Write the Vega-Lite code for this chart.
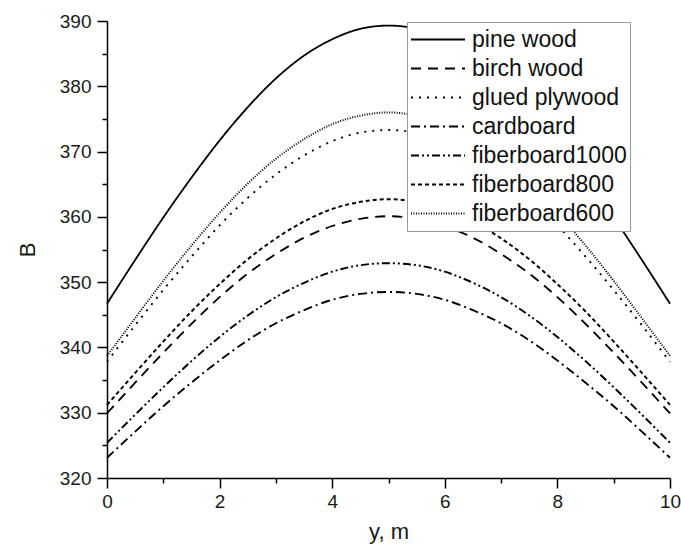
{
  "$schema": "https://vega.github.io/schema/vega-lite/v6.json",
  "width": 563,
  "height": 457,
  "autosize": {"type": "none"},
  "padding": {"left": 107, "top": 21, "right": 11, "bottom": 74},
  "background": "white",
  "config": {
    "view": {"stroke": null},
    "font": "Liberation Sans"
  },
  "data": {
    "values": [
      {"y_m": 0, "B": 346.7, "material": "pine wood"}, {"y_m": 0.5, "B": 353.4, "material": "pine wood"}, {"y_m": 1, "B": 359.9, "material": "pine wood"}, {"y_m": 1.5, "B": 366.0, "material": "pine wood"}, {"y_m": 2, "B": 371.7, "material": "pine wood"}, {"y_m": 2.5, "B": 376.8, "material": "pine wood"}, {"y_m": 3, "B": 381.2, "material": "pine wood"}, {"y_m": 3.5, "B": 384.7, "material": "pine wood"}, {"y_m": 4, "B": 387.2, "material": "pine wood"}, {"y_m": 4.5, "B": 388.8, "material": "pine wood"}, {"y_m": 5, "B": 389.3, "material": "pine wood"}, {"y_m": 5.5, "B": 388.8, "material": "pine wood"}, {"y_m": 6, "B": 387.2, "material": "pine wood"}, {"y_m": 6.5, "B": 384.7, "material": "pine wood"}, {"y_m": 7, "B": 381.2, "material": "pine wood"}, {"y_m": 7.5, "B": 376.8, "material": "pine wood"}, {"y_m": 8, "B": 371.7, "material": "pine wood"}, {"y_m": 8.5, "B": 366.0, "material": "pine wood"}, {"y_m": 9, "B": 359.9, "material": "pine wood"}, {"y_m": 9.5, "B": 353.4, "material": "pine wood"}, {"y_m": 10, "B": 346.7, "material": "pine wood"},

      {"y_m": 0, "B": 329.9, "material": "birch wood"}, {"y_m": 0.5, "B": 334.6, "material": "birch wood"}, {"y_m": 1, "B": 339.2, "material": "birch wood"}, {"y_m": 1.5, "B": 343.6, "material": "birch wood"}, {"y_m": 2, "B": 347.7, "material": "birch wood"}, {"y_m": 2.5, "B": 351.3, "material": "birch wood"}, {"y_m": 3, "B": 354.3, "material": "birch wood"}, {"y_m": 3.5, "B": 356.8, "material": "birch wood"}, {"y_m": 4, "B": 358.6, "material": "birch wood"}, {"y_m": 4.5, "B": 359.7, "material": "birch wood"}, {"y_m": 5, "B": 360.1, "material": "birch wood"}, {"y_m": 5.5, "B": 359.7, "material": "birch wood"}, {"y_m": 6, "B": 358.6, "material": "birch wood"}, {"y_m": 6.5, "B": 356.8, "material": "birch wood"}, {"y_m": 7, "B": 354.3, "material": "birch wood"}, {"y_m": 7.5, "B": 351.3, "material": "birch wood"}, {"y_m": 8, "B": 347.7, "material": "birch wood"}, {"y_m": 8.5, "B": 343.6, "material": "birch wood"}, {"y_m": 9, "B": 339.2, "material": "birch wood"}, {"y_m": 9.5, "B": 334.6, "material": "birch wood"}, {"y_m": 10, "B": 329.9, "material": "birch wood"},

      {"y_m": 0, "B": 337.8, "material": "glued plywood"}, {"y_m": 0.5, "B": 343.4, "material": "glued plywood"}, {"y_m": 1, "B": 348.8, "material": "glued plywood"}, {"y_m": 1.5, "B": 353.9, "material": "glued plywood"}, {"y_m": 2, "B": 358.7, "material": "glued plywood"}, {"y_m": 2.5, "B": 362.9, "material": "glued plywood"}, {"y_m": 3, "B": 366.5, "material": "glued plywood"}, {"y_m": 3.5, "B": 369.4, "material": "glued plywood"}, {"y_m": 4, "B": 371.6, "material": "glued plywood"}, {"y_m": 4.5, "B": 372.9, "material": "glued plywood"}, {"y_m": 5, "B": 373.3, "material": "glued plywood"}, {"y_m": 5.5, "B": 372.9, "material": "glued plywood"}, {"y_m": 6, "B": 371.6, "material": "glued plywood"}, {"y_m": 6.5, "B": 369.4, "material": "glued plywood"}, {"y_m": 7, "B": 366.5, "material": "glued plywood"}, {"y_m": 7.5, "B": 362.9, "material": "glued plywood"}, {"y_m": 8, "B": 358.7, "material": "glued plywood"}, {"y_m": 8.5, "B": 353.9, "material": "glued plywood"}, {"y_m": 9, "B": 348.8, "material": "glued plywood"}, {"y_m": 9.5, "B": 343.4, "material": "glued plywood"}, {"y_m": 10, "B": 337.8, "material": "glued plywood"},

      {"y_m": 0, "B": 323.1, "material": "cardboard"}, {"y_m": 0.5, "B": 327.1, "material": "cardboard"}, {"y_m": 1, "B": 331.0, "material": "cardboard"}, {"y_m": 1.5, "B": 334.6, "material": "cardboard"}, {"y_m": 2, "B": 338.0, "material": "cardboard"}, {"y_m": 2.5, "B": 341.1, "material": "cardboard"}, {"y_m": 3, "B": 343.7, "material": "cardboard"}, {"y_m": 3.5, "B": 345.7, "material": "cardboard"}, {"y_m": 4, "B": 347.3, "material": "cardboard"}, {"y_m": 4.5, "B": 348.2, "material": "cardboard"}, {"y_m": 5, "B": 348.5, "material": "cardboard"}, {"y_m": 5.5, "B": 348.2, "material": "cardboard"}, {"y_m": 6, "B": 347.3, "material": "cardboard"}, {"y_m": 6.5, "B": 345.7, "material": "cardboard"}, {"y_m": 7, "B": 343.7, "material": "cardboard"}, {"y_m": 7.5, "B": 341.1, "material": "cardboard"}, {"y_m": 8, "B": 338.0, "material": "cardboard"}, {"y_m": 8.5, "B": 334.6, "material": "cardboard"}, {"y_m": 9, "B": 331.0, "material": "cardboard"}, {"y_m": 9.5, "B": 327.1, "material": "cardboard"}, {"y_m": 10, "B": 323.1, "material": "cardboard"},

      {"y_m": 0, "B": 325.4, "material": "fiberboard1000"}, {"y_m": 0.5, "B": 329.7, "material": "fiberboard1000"}, {"y_m": 1, "B": 333.9, "material": "fiberboard1000"}, {"y_m": 1.5, "B": 337.9, "material": "fiberboard1000"}, {"y_m": 2, "B": 341.6, "material": "fiberboard1000"}, {"y_m": 2.5, "B": 344.9, "material": "fiberboard1000"}, {"y_m": 3, "B": 347.7, "material": "fiberboard1000"}, {"y_m": 3.5, "B": 349.9, "material": "fiberboard1000"}, {"y_m": 4, "B": 351.6, "material": "fiberboard1000"}, {"y_m": 4.5, "B": 352.6, "material": "fiberboard1000"}, {"y_m": 5, "B": 352.9, "material": "fiberboard1000"}, {"y_m": 5.5, "B": 352.6, "material": "fiberboard1000"}, {"y_m": 6, "B": 351.6, "material": "fiberboard1000"}, {"y_m": 6.5, "B": 349.9, "material": "fiberboard1000"}, {"y_m": 7, "B": 347.7, "material": "fiberboard1000"}, {"y_m": 7.5, "B": 344.9, "material": "fiberboard1000"}, {"y_m": 8, "B": 341.6, "material": "fiberboard1000"}, {"y_m": 8.5, "B": 337.9, "material": "fiberboard1000"}, {"y_m": 9, "B": 333.9, "material": "fiberboard1000"}, {"y_m": 9.5, "B": 329.7, "material": "fiberboard1000"}, {"y_m": 10, "B": 325.4, "material": "fiberboard1000"},

      {"y_m": 0, "B": 331.2, "material": "fiberboard800"}, {"y_m": 0.5, "B": 336.1, "material": "fiberboard800"}, {"y_m": 1, "B": 340.9, "material": "fiberboard800"}, {"y_m": 1.5, "B": 345.5, "material": "fiberboard800"}, {"y_m": 2, "B": 349.7, "material": "fiberboard800"}, {"y_m": 2.5, "B": 353.5, "material": "fiberboard800"}, {"y_m": 3, "B": 356.7, "material": "fiberboard800"}, {"y_m": 3.5, "B": 359.3, "material": "fiberboard800"}, {"y_m": 4, "B": 361.2, "material": "fiberboard800"}, {"y_m": 4.5, "B": 362.3, "material": "fiberboard800"}, {"y_m": 5, "B": 362.7, "material": "fiberboard800"}, {"y_m": 5.5, "B": 362.3, "material": "fiberboard800"}, {"y_m": 6, "B": 361.2, "material": "fiberboard800"}, {"y_m": 6.5, "B": 359.3, "material": "fiberboard800"}, {"y_m": 7, "B": 356.7, "material": "fiberboard800"}, {"y_m": 7.5, "B": 353.5, "material": "fiberboard800"}, {"y_m": 8, "B": 349.7, "material": "fiberboard800"}, {"y_m": 8.5, "B": 345.5, "material": "fiberboard800"}, {"y_m": 9, "B": 340.9, "material": "fiberboard800"}, {"y_m": 9.5, "B": 336.1, "material": "fiberboard800"}, {"y_m": 10, "B": 331.2, "material": "fiberboard800"},

      {"y_m": 0, "B": 338.7, "material": "fiberboard600"}, {"y_m": 0.5, "B": 344.5, "material": "fiberboard600"}, {"y_m": 1, "B": 350.2, "material": "fiberboard600"}, {"y_m": 1.5, "B": 355.6, "material": "fiberboard600"}, {"y_m": 2, "B": 360.6, "material": "fiberboard600"}, {"y_m": 2.5, "B": 365.1, "material": "fiberboard600"}, {"y_m": 3, "B": 368.9, "material": "fiberboard600"}, {"y_m": 3.5, "B": 371.9, "material": "fiberboard600"}, {"y_m": 4, "B": 374.2, "material": "fiberboard600"}, {"y_m": 4.5, "B": 375.5, "material": "fiberboard600"}, {"y_m": 5, "B": 376.0, "material": "fiberboard600"}, {"y_m": 5.5, "B": 375.5, "material": "fiberboard600"}, {"y_m": 6, "B": 374.2, "material": "fiberboard600"}, {"y_m": 6.5, "B": 371.9, "material": "fiberboard600"}, {"y_m": 7, "B": 368.9, "material": "fiberboard600"}, {"y_m": 7.5, "B": 365.1, "material": "fiberboard600"}, {"y_m": 8, "B": 360.6, "material": "fiberboard600"}, {"y_m": 8.5, "B": 355.6, "material": "fiberboard600"}, {"y_m": 9, "B": 350.2, "material": "fiberboard600"}, {"y_m": 9.5, "B": 344.5, "material": "fiberboard600"}, {"y_m": 10, "B": 338.7, "material": "fiberboard600"}
    ]
  },
  "layer": [
    {
      "mark": {"type": "line", "color": "black", "interpolate": "monotone", "strokeCap": "butt"},
      "encoding": {
        "x": {
          "field": "y_m", "type": "quantitative",
          "scale": {"domain": [0, 10], "nice": false, "zero": false},
          "axis": {
            "orient": "bottom", "values": [0, 2, 4, 6, 8, 10], "title": "y, m", "grid": false,
            "labelFlush": false, "domainColor": "black", "domainWidth": 1.5,
            "tickColor": "black", "tickWidth": 1.5, "tickSize": 10,
            "labelFont": "Liberation Sans", "labelFontSize": 19, "labelColor": "#1a1a1a", "labelPadding": 4,
            "titleFont": "Liberation Sans", "titleFontSize": 22, "titleFontWeight": "normal", "titleColor": "#1a1a1a", "titlePadding": 10
          }
        },
        "y": {
          "field": "B", "type": "quantitative",
          "scale": {"domain": [320, 390], "nice": false, "zero": false},
          "axis": {
            "orient": "left", "values": [320, 330, 340, 350, 360, 370, 380, 390], "title": "B", "grid": false,
            "labelFlush": false, "domainColor": "black", "domainWidth": 1.5,
            "tickColor": "black", "tickWidth": 1.5, "tickSize": 10,
            "labelFont": "Liberation Sans", "labelFontSize": 19, "labelColor": "#1a1a1a", "labelPadding": 6,
            "titleFont": "Liberation Sans", "titleFontSize": 22, "titleFontWeight": "normal", "titleColor": "#1a1a1a", "titlePadding": 20
          }
        },
        "strokeDash": {
          "field": "material", "type": "nominal",
          "scale": {
            "domain": ["pine wood", "birch wood", "glued plywood", "cardboard", "fiberboard1000", "fiberboard800", "fiberboard600"],
            "range": [[1, 0], [10, 7], [2, 6], [9, 4, 2, 4], [8, 3, 2, 3, 2, 3], [4, 3], [1, 1.5]]
          },
          "legend": {
            "orient": "none", "legendX": 300, "legendY": 1, "title": null,
            "padding": 3, "strokeColor": "#999999", "fillColor": "white",
            "symbolType": "stroke", "symbolSize": 2916, "symbolStrokeWidth": 1.8, "symbolStrokeColor": "black",
            "labelFont": "Liberation Sans", "labelFontSize": 23, "labelColor": "#111111", "labelLimit": 300,
            "labelOffset": 6, "rowPadding": 0, "clipHeight": 29
          }
        },
        "strokeWidth": {
          "field": "material", "type": "nominal",
          "scale": {
            "domain": ["pine wood", "birch wood", "glued plywood", "cardboard", "fiberboard1000", "fiberboard800", "fiberboard600"],
            "range": [1.8, 2, 2, 2, 2, 2, 1.2]
          },
          "legend": null
        }
      }
    },
    {
      "mark": {"type": "point", "opacity": 0},
      "encoding": {
        "x": {
          "field": "y_m", "type": "quantitative",
          "axis": {
            "orient": "bottom", "values": [1, 3, 5, 7, 9], "title": null, "labels": false, "domain": false, "grid": false,
            "tickColor": "black", "tickWidth": 1.5, "tickSize": 5
          }
        },
        "y": {
          "field": "B", "type": "quantitative",
          "axis": {
            "orient": "left", "values": [325, 335, 345, 355, 365, 375, 385], "title": null, "labels": false, "domain": false, "grid": false,
            "tickColor": "black", "tickWidth": 1.5, "tickSize": 5
          }
        }
      }
    }
  ],
  "resolve": {"axis": {"x": "independent", "y": "independent"}}
}
